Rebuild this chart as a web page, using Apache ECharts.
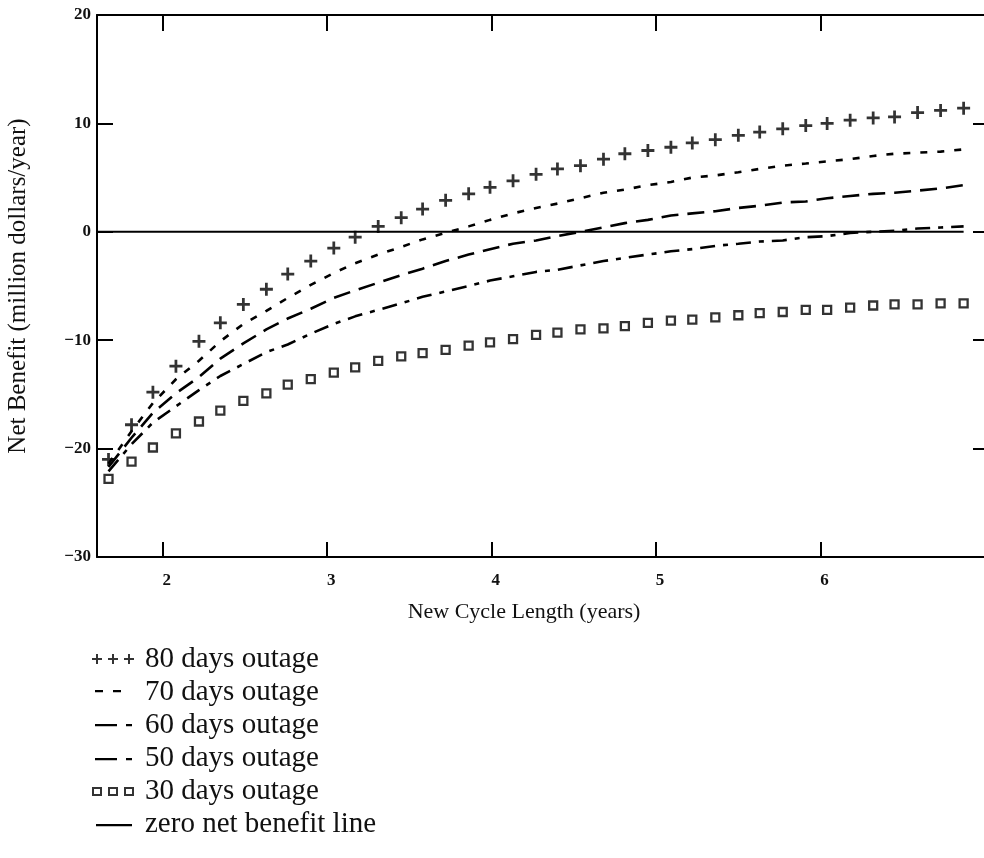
<!DOCTYPE html>
<html>
<head>
<meta charset="utf-8">
<script src="https://cdn.jsdelivr.net/npm/echarts@6/dist/echarts.min.js"></script>
<style>
html,body{margin:0;padding:0;background:#fff;}
#chart{width:984px;height:858px;}
</style>
</head>
<body>
<div id="chart"></div>
<script>
// ---- data ----
const cycleYears = [1.67, 1.81, 1.94, 2.08, 2.22, 2.35, 2.49, 2.63, 2.76, 2.90,
  3.04, 3.17, 3.31, 3.45, 3.58, 3.72, 3.86, 3.99, 4.13, 4.27,
  4.40, 4.54, 4.68, 4.81, 4.95, 5.09, 5.22, 5.36, 5.50, 5.63,
  5.77, 5.91, 6.04, 6.18, 6.32, 6.45, 6.59, 6.73, 6.87];

const outage80 = [-21.0, -17.8, -14.8, -12.4, -10.1, -8.4, -6.7, -5.3, -3.9, -2.7,
  -1.5, -0.5, 0.5, 1.3, 2.1, 2.9, 3.5, 4.1, 4.7, 5.3,
  5.8, 6.1, 6.7, 7.2, 7.5, 7.8, 8.2, 8.5, 8.9, 9.2,
  9.5, 9.8, 10.0, 10.3, 10.5, 10.6, 11.0, 11.2, 11.4];

const outage70 = [-21.4, -18.4, -15.8, -13.6, -11.9, -10.1, -8.5, -7.3, -6.1, -4.9,
  -3.8, -2.9, -2.1, -1.4, -0.7, -0.1, 0.5, 1.1, 1.7, 2.2,
  2.6, 3.1, 3.6, 3.9, 4.3, 4.6, 5.0, 5.2, 5.5, 5.8,
  6.1, 6.3, 6.5, 6.7, 7.0, 7.2, 7.3, 7.4, 7.6];

const outage60 = [-21.7, -19.0, -16.7, -14.9, -13.4, -11.7, -10.3, -9.0, -8.0, -7.1,
  -6.1, -5.4, -4.7, -4.0, -3.4, -2.7, -2.1, -1.6, -1.1, -0.8,
  -0.4, 0.0, 0.4, 0.8, 1.1, 1.5, 1.7, 1.9, 2.2, 2.4,
  2.7, 2.8, 3.1, 3.3, 3.5, 3.6, 3.8, 4.0, 4.3];

const outage50 = [-22.1, -19.6, -17.6, -16.1, -14.6, -13.3, -12.2, -11.1, -10.4, -9.4,
  -8.5, -7.8, -7.2, -6.6, -6.0, -5.5, -5.0, -4.5, -4.1, -3.7,
  -3.5, -3.1, -2.7, -2.4, -2.1, -1.8, -1.6, -1.3, -1.1, -0.9,
  -0.8, -0.5, -0.4, -0.1, 0.0, 0.1, 0.3, 0.4, 0.5];

const outage30 = [-22.8, -21.2, -19.9, -18.6, -17.5, -16.5, -15.6, -14.9, -14.1, -13.6,
  -13.0, -12.5, -11.9, -11.5, -11.2, -10.9, -10.5, -10.2, -9.9, -9.5,
  -9.3, -9.0, -8.9, -8.7, -8.4, -8.2, -8.1, -7.9, -7.7, -7.5,
  -7.4, -7.2, -7.2, -7.0, -6.8, -6.7, -6.7, -6.6, -6.6];

const zeroLineX = [1.6, 6.87];
const zeroLineY = [0, 0];

const seriesNames = ['80 days outage', '70 days outage', '60 days outage',
  '50 days outage', '30 days outage', 'zero net benefit line'];

const xTickValues = [2, 3, 4, 5, 6, 7];
const xAxisName = 'New Cycle Length (years)';
const yAxisName = 'Net Benefit (million dollars/year)';

// ---- helpers ----
function pairs(xs, ys) { return xs.map((x, i) => [x, ys[i]]); }

const PLUS = 'path://M3.15,0H4.85V3.15H8V4.85H4.85V8H3.15V4.85H0V3.15H3.15Z';

const BOX = 'M0,0M48,11';
const iconPlus = 'path://' + BOX +
  'M4,0H6V4H10V6H6V10H4V6H0V4H4Z' +
  'M20,0H22V4H26V6H22V10H20V6H16V4H20Z' +
  'M36,0H38V4H42V6H38V10H36V6H32V4H36Z';
const iconShort = 'path://' + BOX + 'M3,3H11V5.3H3ZM21,3H29V5.3H21Z';
const iconLong1 = 'path://' + BOX + 'M3,4H25V6.3H3ZM34,4H40V6.3H34Z';
const iconLong2 = 'path://' + BOX + 'M3,5H25V7.3H3ZM34,5H40V7.3H34Z';
const iconSquares = 'path://' + BOX +
  'M0,1H10V10H0ZM2,3V8H8V3Z' +
  'M16,1H26V10H16ZM18,3V8H24V3Z' +
  'M32,1H42V10H32ZM34,3V8H40V3Z';
const iconSolid = 'path://' + BOX + 'M4,5H40V7.2H4Z';

const legendIcons = [iconPlus, iconShort, iconLong1, iconLong2, iconSquares, iconSolid];

const SERIF = '"Liberation Serif", "Times New Roman", serif';
const AXIS_LINE = { show: true, onZero: false, lineStyle: { color: '#000', width: 2 } };

const chart = echarts.init(document.getElementById('chart'), null, { renderer: 'canvas' });

const option = {
  animation: false,
  backgroundColor: '#fff',
  grid: { left: 97, right: -1, top: 15, bottom: 301, containLabel: false, outerBoundsMode: 'none' },
  legend: {
    orient: 'vertical',
    left: 92,
    top: 645,
    padding: 0,
    itemGap: 4,
    itemWidth: 48,
    itemHeight: 11,
    symbolKeepAspect: false,
    selectedMode: false,
    textStyle: { fontFamily: SERIF, fontSize: 29, lineHeight: 28, color: '#111' },
    data: seriesNames.map((n, i) => ({
      name: n,
      icon: legendIcons[i],
      itemStyle: { color: '#000', borderWidth: 0 }
    }))
  },
  xAxis: [
    {
      type: 'value', position: 'bottom', min: 1.6, max: 7,
      name: xAxisName, nameLocation: 'middle', nameGap: 44,
      nameTextStyle: { fontFamily: SERIF, fontSize: 22, color: '#111', padding: [0, 34, 0, 0] },
      axisLine: AXIS_LINE,
      axisTick: { show: true, inside: true, length: 15, customValues: xTickValues, lineStyle: { color: '#000', width: 2 } },
      axisLabel: { show: true, showMaxLabel: true, customValues: xTickValues, margin: 15, fontFamily: SERIF, fontWeight: 'bold', fontSize: 17, color: '#111', padding: [0, 0, 0, 8] },
      splitLine: { show: false }
    },
    {
      type: 'value', position: 'top', min: 1.6, max: 7,
      axisLine: AXIS_LINE,
      axisTick: { show: true, inside: true, length: 16, customValues: xTickValues, lineStyle: { color: '#000', width: 2 } },
      axisLabel: { show: false },
      splitLine: { show: false }
    }
  ],
  yAxis: [
    {
      type: 'value', position: 'left', min: -30, max: 20, interval: 10,
      name: yAxisName, nameLocation: 'middle', nameGap: 66, nameRotate: 90,
      nameTextStyle: { fontFamily: SERIF, fontSize: 25, color: '#111' },
      axisLine: AXIS_LINE,
      axisTick: { show: true, inside: true, length: 16, lineStyle: { color: '#000', width: 2 } },
      axisLabel: {
        show: true, margin: 6, fontFamily: SERIF, fontWeight: 'bold', fontSize: 17, color: '#111',
        formatter: v => String(v).replace('-', '\u2212')
      },
      splitLine: { show: false }
    },
    {
      type: 'value', position: 'right', min: -30, max: 20, interval: 10,
      axisLine: AXIS_LINE,
      axisTick: { show: true, inside: true, length: 12, lineStyle: { color: '#000', width: 2 } },
      axisLabel: { show: false },
      splitLine: { show: false }
    }
  ],
  series: [
    {
      name: seriesNames[0], type: 'scatter', xAxisIndex: 0, yAxisIndex: 0,
      data: pairs(cycleYears, outage80),
      symbol: PLUS, symbolSize: 13,
      itemStyle: { color: '#000' }, z: 5
    },
    {
      name: seriesNames[1], type: 'line', data: pairs(cycleYears, outage70),
      symbol: 'none', showSymbol: false, color: '#000',
      lineStyle: { color: '#000', width: 2.6, type: [7, 10] }, z: 4
    },
    {
      name: seriesNames[2], type: 'line', data: pairs(cycleYears, outage60),
      symbol: 'none', showSymbol: false, color: '#000',
      lineStyle: { color: '#000', width: 2.6, type: [17, 9] }, z: 4
    },
    {
      name: seriesNames[3], type: 'line', data: pairs(cycleYears, outage50),
      symbol: 'none', showSymbol: false, color: '#000',
      lineStyle: { color: '#000', width: 2.6, type: [15, 8, 5, 8] }, z: 4
    },
    {
      name: seriesNames[4], type: 'scatter', data: pairs(cycleYears, outage30),
      symbol: 'rect', symbolSize: 8,
      itemStyle: { color: '#fff', borderColor: '#000', borderWidth: 2.3 }, z: 5
    },
    {
      name: seriesNames[5], type: 'line', data: pairs(zeroLineX, zeroLineY),
      symbol: 'none', showSymbol: false, color: '#000',
      lineStyle: { color: '#000', width: 2 }, z: 3
    }
  ]
};

chart.setOption(option);
</script>
</body>
</html>
